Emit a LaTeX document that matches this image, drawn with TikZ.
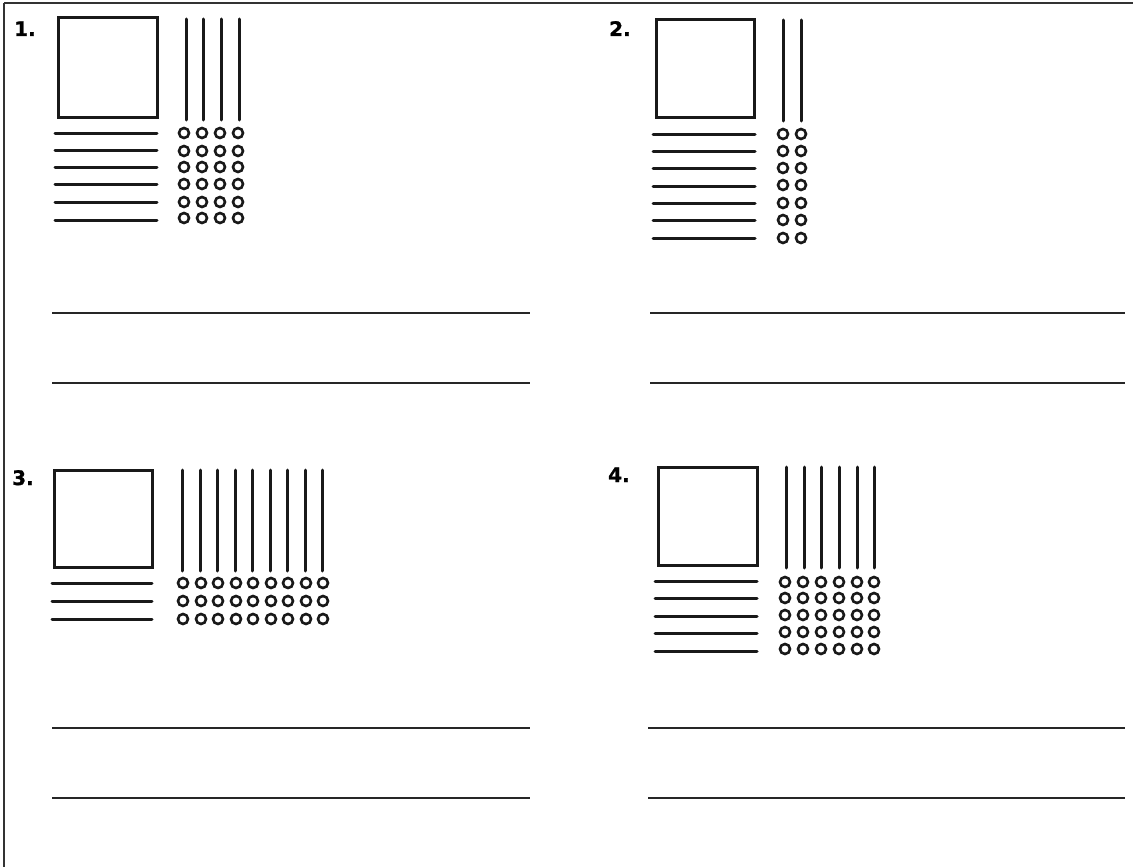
\documentclass[tikz,border=0pt]{standalone}
\usepackage{fontspec}
\setmainfont{DejaVu Sans}
\newfontfamily\numfont[FakeBold=1.2]{DejaVu Sans Bold}
\begin{document}
\begin{tikzpicture}[x=1pt,y=-1pt,
  frame/.style={line width=2pt,draw=black!80},
  block/.style={line width=3pt,draw=black!90},
  rod/.style={line width=3pt,draw=black!90,line cap=round},
  unit/.style={line width=2.6pt,draw=black!90},
  answer/.style={line width=2pt,draw=black!85},
  num/.style={anchor=base west,inner sep=0pt,font=\fontsize{20}{20}\numfont}]
\useasboundingbox (0,0) rectangle (1133,867);
\fill[white] (0,0) rectangle (1133,867);
% frame
\draw[frame] (4,3) -- (1133,3);
\draw[frame] (4,3) -- (4,867);

% ---------- Panel 1 ----------
\node[num] (n1) at (14,36) {1.};
\draw[block] (58,18) rectangle (157,117);
\foreach \x in {186,203,221,239} \draw[rod] (\x,19) -- (\x,120);
\foreach \y in {133,150,167,184,202,220} \draw[rod] (55,\y) -- (157,\y);
\foreach \x in {184,202,220,238} \foreach \y in {133,151,167,184,202,218} \draw[unit] (\x,\y) circle (5);
\draw[answer] (52,313) -- (530,313);
\draw[answer] (52,383) -- (530,383);

% ---------- Panel 2 ----------
\node[num] (n2) at (609,36) {2.};
\draw[block] (656,20) rectangle (754,117);
\foreach \x in {783,801} \draw[rod] (\x,20) -- (\x,121);
\foreach \y in {134,151,168,186,203,220,238} \draw[rod] (653,\y) -- (755,\y);
\foreach \x in {783,801} \foreach \y in {134,151,168,185,203,220,238} \draw[unit] (\x,\y) circle (5);
\draw[answer] (650,313) -- (1125,313);
\draw[answer] (650,383) -- (1125,383);

% ---------- Panel 3 ----------
\node[num] (n3) at (12,485) {3.};
\draw[block] (54,470) rectangle (152,567);
\foreach \x in {182,200,217,235,252,270,287,305,322} \draw[rod] (\x,470) -- (\x,571);
\foreach \y in {583,601,619} \draw[rod] (52,\y) -- (152,\y);
\foreach \x in {183,201,218,236,253,271,288,306,323} \foreach \y in {583,601,619} \draw[unit] (\x,\y) circle (5);
\draw[answer] (52,728) -- (530,728);
\draw[answer] (52,798) -- (530,798);

% ---------- Panel 4 ----------
\node[num] (n4) at (608,482) {4.};
\draw[block] (658,467) rectangle (757,565);
\foreach \x in {786,804,821,839,857,874} \draw[rod] (\x,467) -- (\x,568);
\foreach \y in {581,598,616,633,651} \draw[rod] (655,\y) -- (757,\y);
\foreach \x in {785,803,821,839,857,874} \foreach \y in {582,598,615,632,649} \draw[unit] (\x,\y) circle (5);
\draw[answer] (648,728) -- (1125,728);
\draw[answer] (648,798) -- (1125,798);
\end{tikzpicture}
\end{document}
